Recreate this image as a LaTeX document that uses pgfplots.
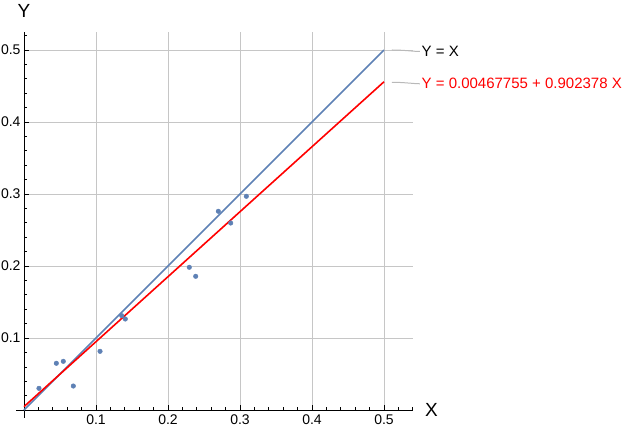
\documentclass[border=0pt]{standalone}
\usepackage{fontspec}
\setmainfont{Liberation Sans}
\usepackage{pgfplots}
\pgfplotsset{compat=1.18}

\definecolor{mblue}{rgb}{0.368417,0.506779,0.709798}

\begin{document}
\begin{tikzpicture}
\path[use as bounding box] (-24bp,-22bp) rectangle (601bp,410bp);
\begin{axis}[
  scale only axis, width=389bp, height=378bp,
  xmin=0, xmax=0.5403, ymin=0, ymax=0.525,
  axis lines=left,
  x axis line style={-, line width=0.8bp},
  y axis line style={-, line width=0.8bp},
  clip=false,
  xtick={0.1,0.2,0.3,0.4,0.5},
  ytick={0.1,0.2,0.3,0.4,0.5},
  minor xtick={0.02,0.04,0.06,0.08,0.12,0.14,0.16,0.18,0.22,0.24,0.26,0.28,0.32,0.34,0.36,0.38,0.42,0.44,0.46,0.48,0.52,0.54},
  minor ytick={0.02,0.04,0.06,0.08,0.12,0.14,0.16,0.18,0.22,0.24,0.26,0.28,0.32,0.34,0.36,0.38,0.42,0.44,0.46,0.48,0.52},
  xticklabels={0.1,0.2,0.3,0.4,0.5},
  yticklabels={0.1,0.2,0.3,0.4,0.5},
  tick align=inside,
  major tick length=5bp, minor tick length=3bp,
  every tick/.style={black, line width=0.6bp},
  grid=major,
  major grid style={gray!45, line width=0.6bp},
  minor grid style={draw=none},
  tick label style={font=\fontsize{14bp}{16bp}\selectfont},
  /pgf/number format/assume math mode=true,
  xticklabel style={yshift=-1bp},
  xlabel={X}, ylabel={Y},
  label style={font=\fontsize{19bp}{22bp}\selectfont},
  xlabel style={at={(axis description cs:1,0)}, anchor=west, inner sep=0pt, xshift=12bp},
  ylabel style={at={(axis description cs:0,1)}, anchor=south, rotate=-90, inner sep=0pt, yshift=14bp},
]
% axis stubs below/left of the origin
\draw[line width=0.8bp] (axis cs:-0.011,0) -- (axis cs:0,0);
\draw[line width=0.8bp] (axis cs:0,-0.011) -- (axis cs:0,0);

\addplot[only marks, mark=*, mark size=2.3bp, mblue, mark options={draw=mblue, fill=mblue}] coordinates {
(0.0208,0.0301) (0.0449,0.0649) (0.0546,0.0676) (0.0685,0.0333)
(0.1056,0.0815) (0.1357,0.1310) (0.1407,0.1264) (0.2296,0.1982)
(0.2385,0.1857) (0.2699,0.2760) (0.2871,0.2597) (0.3088,0.2968)
};
\addplot[mblue, line width=1.6bp] coordinates {(0,0) (0.5,0.5)};
\addplot[red, line width=1.6bp] coordinates {(0,0.00467755) (0.5,0.45586655)};

\draw[gray!55, line width=1bp] (axis cs:0.5,0.5) ++(8bp,0) .. controls ++(12bp,0) and ++(-6bp,0) .. ++(28bp,-1.5bp);
\draw[gray!55, line width=1bp] (axis cs:0.5,0.45586655) ++(8bp,-0.5bp) .. controls ++(12bp,0) and ++(-6bp,0) .. ++(28bp,-1.5bp);
\node[anchor=west, inner sep=0pt, font=\fontsize{15bp}{18bp}\selectfont] at ([xshift=37.5bp,yshift=-1.3bp]axis cs:0.5,0.5) {Y = X};
\node[anchor=west, inner sep=0pt, text=red, font=\fontsize{15bp}{18bp}\selectfont] at ([xshift=37.5bp,yshift=-1.3bp]axis cs:0.5,0.45586655) {Y = 0.00467755 + 0.902378 X};
\end{axis}
\end{tikzpicture}
\end{document}
